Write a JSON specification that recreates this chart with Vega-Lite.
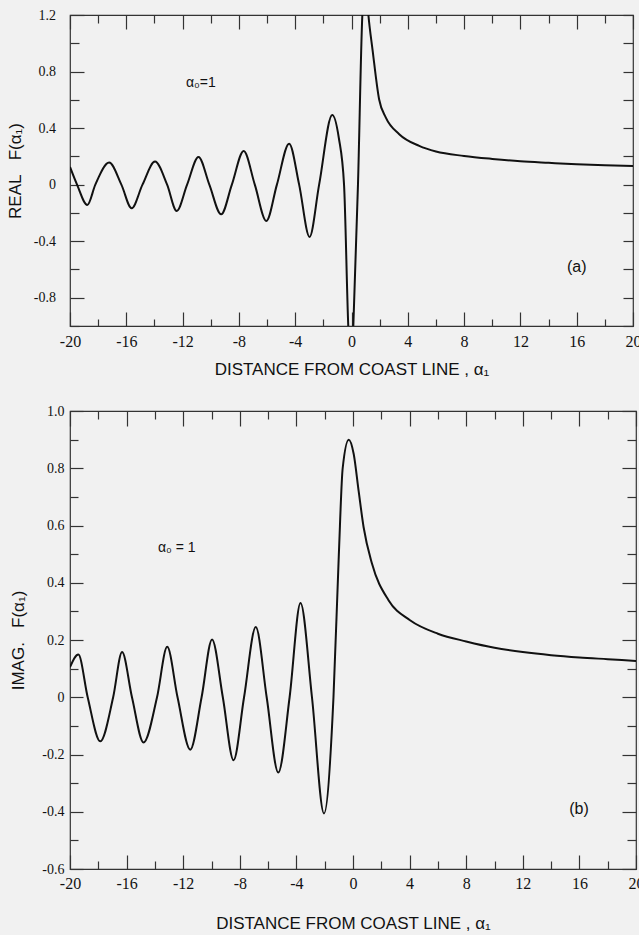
{
  "$schema": "https://vega.github.io/schema/vega-lite/v6.json",
  "background": "#f1f1f1",
  "padding": {"left": 5, "top": 7, "right": 3, "bottom": 3},
  "spacing": 25,
  "datasets": {
    "real": [
      {"x": -20, "y": 0.125}, {"x": -19.5, "y": 0}, {"x": -18.77, "y": -0.144}, {"x": -18.2, "y": 0},
      {"x": -17.22, "y": 0.156}, {"x": -16.35, "y": 0}, {"x": -15.62, "y": -0.167}, {"x": -14.85, "y": 0},
      {"x": -13.96, "y": 0.163}, {"x": -13.1, "y": 0}, {"x": -12.42, "y": -0.186}, {"x": -11.68, "y": 0},
      {"x": -10.87, "y": 0.196}, {"x": -10.1, "y": 0}, {"x": -9.26, "y": -0.21}, {"x": -8.5, "y": 0},
      {"x": -7.66, "y": 0.238}, {"x": -6.87, "y": 0}, {"x": -6.05, "y": -0.257}, {"x": -5.3, "y": 0},
      {"x": -4.43, "y": 0.29}, {"x": -3.72, "y": 0}, {"x": -2.98, "y": -0.37}, {"x": -2.3, "y": 0},
      {"x": -1.37, "y": 0.493}, {"x": -0.9, "y": 0.33}, {"x": -0.53, "y": 0},
      {"x": -0.23, "y": -1.0}, {"x": -0.05, "y": -1.35}, {"x": 0.13, "y": -1.0}, {"x": 0.46, "y": 0},
      {"x": 0.77, "y": 1.2}, {"x": 1.0, "y": 1.45}, {"x": 1.2, "y": 1.2}, {"x": 1.5, "y": 0.95},
      {"x": 1.96, "y": 0.604}, {"x": 2.44, "y": 0.474}, {"x": 3.39, "y": 0.357}, {"x": 4.81, "y": 0.274},
      {"x": 6.0, "y": 0.234}, {"x": 8.0, "y": 0.203}, {"x": 10.0, "y": 0.182}, {"x": 12.0, "y": 0.165},
      {"x": 14.0, "y": 0.154}, {"x": 16.0, "y": 0.144}, {"x": 18.0, "y": 0.137}, {"x": 20.0, "y": 0.132}
    ],
    "imag": [
      {"x": -20, "y": 0.105}, {"x": -19.41, "y": 0.149}, {"x": -18.75, "y": 0}, {"x": -17.86, "y": -0.154},
      {"x": -16.95, "y": 0}, {"x": -16.32, "y": 0.158}, {"x": -15.62, "y": 0}, {"x": -14.8, "y": -0.158},
      {"x": -13.85, "y": 0}, {"x": -13.13, "y": 0.176}, {"x": -12.4, "y": 0}, {"x": -11.5, "y": -0.183},
      {"x": -10.7, "y": 0}, {"x": -9.96, "y": 0.202}, {"x": -9.2, "y": 0}, {"x": -8.44, "y": -0.22},
      {"x": -7.7, "y": 0}, {"x": -6.87, "y": 0.245}, {"x": -6.1, "y": 0}, {"x": -5.28, "y": -0.263},
      {"x": -4.48, "y": 0}, {"x": -3.71, "y": 0.329}, {"x": -2.9, "y": 0}, {"x": -2.05, "y": -0.406},
      {"x": -1.38, "y": 0}, {"x": -1.0, "y": 0.5}, {"x": -0.73, "y": 0.8}, {"x": -0.3, "y": 0.9},
      {"x": 0.05, "y": 0.85}, {"x": 0.4, "y": 0.72}, {"x": 0.75, "y": 0.594}, {"x": 1.34, "y": 0.467},
      {"x": 2.51, "y": 0.339}, {"x": 4.03, "y": 0.269}, {"x": 6.0, "y": 0.222}, {"x": 8.0, "y": 0.195},
      {"x": 10.0, "y": 0.173}, {"x": 12.0, "y": 0.158}, {"x": 14.0, "y": 0.147}, {"x": 16.0, "y": 0.139},
      {"x": 18.0, "y": 0.133}, {"x": 20.0, "y": 0.127}
    ],
    "notesA": [
      {"x": -10.7, "y": 0.72, "label": "α₀=1", "size": "small"},
      {"x": 16.0, "y": -0.585, "label": "(a)", "size": "big"}
    ],
    "notesB": [
      {"x": -12.45, "y": 0.52, "label": "α₀ = 1", "size": "small"},
      {"x": 15.97, "y": -0.39, "label": "(b)", "size": "big"}
    ]
  },
  "config": {
    "view": {"stroke": "#333", "strokeWidth": 1.2},
    "axis": {
      "domain": false, "grid": false, "tickColor": "#333", "tickWidth": 1.2, "labelFlush": false,
      "labelFont": "Liberation Sans Narrow", "labelFontSize": 16, "labelColor": "#111",
      "titleFont": "Liberation Sans", "titleFontSize": 17, "titleFontWeight": "normal", "titleColor": "#111"
    },
    "axisLeft": {"labelFontSize": 14},
    "text": {"font": "Liberation Sans", "color": "#111"}
  },
  "vconcat": [
    {
      "width": 563, "height": 311,
      "layer": [
        {
          "data": {"name": "real"},
          "mark": {"type": "line", "color": "#111", "strokeWidth": 2, "interpolate": "monotone", "clip": true},
          "encoding": {
            "x": {"field": "x", "type": "quantitative",
              "scale": {"domain": [-20, 20], "nice": false, "zero": false},
              "axis": {"orient": "bottom",
                "values": [-20,-18,-16,-14,-12,-10,-8,-6,-4,-2,0,2,4,6,8,10,12,14,16,18,20],
                "labelExpr": "datum.value % 4 === 0 ? '' + datum.value : ''",
                "tickSize": {"condition": {"test": "datum.value % 4 === 0", "value": -14}, "value": -7},
                "labelPadding": 21, "title": "DISTANCE FROM COAST LINE , α₁", "titlePadding": 12}},
            "y": {"field": "y", "type": "quantitative",
              "scale": {"domain": [-1, 1.2], "nice": false, "zero": false},
              "axis": {"orient": "left",
                "values": [-1,-0.8,-0.6,-0.4,-0.2,0,0.2,0.4,0.6,0.8,1,1.2],
                "labelExpr": "round(datum.value*10) % 4 === 0 ? '' + datum.value : ''",
                "tickSize": {"condition": {"test": "round(datum.value*10) % 4 === 0", "value": -14}, "value": -9},
                "labelPadding": 28.5, "title": "REAL\u00a0\u00a0\u00a0F(α₁)", "titlePadding": 9}}
          }
        },
        {
          "mark": {"type": "rule", "color": "#444", "strokeWidth": 1.1},
          "encoding": {
            "x": {"datum": 0, "type": "quantitative",
              "scale": {"domain": [-20, 20], "nice": false, "zero": false},
              "axis": {"orient": "top",
                "values": [-20,-18,-16,-14,-12,-10,-8,-6,-4,-2,0,2,4,6,8,10,12,14,16,18,20],
                "labels": false, "title": null,
                "tickSize": {"condition": {"test": "datum.value % 4 === 0", "value": -14}, "value": -8}}}
          }
        },
        {
          "mark": {"type": "rule", "color": "#444", "strokeWidth": 1.1},
          "encoding": {
            "y": {"datum": 0, "type": "quantitative",
              "scale": {"domain": [-1, 1.2], "nice": false, "zero": false},
              "axis": {"orient": "right",
                "values": [-1,-0.8,-0.6,-0.4,-0.2,0,0.2,0.4,0.6,0.8,1,1.2],
                "labels": false, "title": null, "tickSize": -10}}
          }
        },
        {
          "data": {"name": "notesA"},
          "mark": {"type": "text", "align": "center", "baseline": "middle"},
          "encoding": {
            "x": {"field": "x", "type": "quantitative", "scale": {"domain": [-20, 20], "nice": false, "zero": false}, "axis": null},
            "y": {"field": "y", "type": "quantitative", "scale": {"domain": [-1, 1.2], "nice": false, "zero": false}, "axis": null},
            "text": {"field": "label"},
            "size": {"field": "size", "type": "nominal", "scale": {"domain": ["small", "big"], "range": [14, 16]}, "legend": null}
          }
        }
      ],
      "resolve": {"axis": {"x": "independent", "y": "independent"}}
    },
    {
      "width": 566, "height": 458,
      "layer": [
        {
          "data": {"name": "imag"},
          "mark": {"type": "line", "color": "#111", "strokeWidth": 2, "interpolate": "monotone", "clip": true},
          "encoding": {
            "x": {"field": "x", "type": "quantitative",
              "scale": {"domain": [-20, 20], "nice": false, "zero": false},
              "axis": {"orient": "bottom",
                "values": [-20,-18,-16,-14,-12,-10,-8,-6,-4,-2,0,2,4,6,8,10,12,14,16,18,20],
                "labelExpr": "datum.value % 4 === 0 ? '' + datum.value : ''",
                "tickSize": {"condition": {"test": "datum.value % 4 === 0", "value": -14}, "value": -8},
                "labelPadding": 20, "title": "DISTANCE FROM COAST LINE , α₁", "titlePadding": 24}},
            "y": {"field": "y", "type": "quantitative",
              "scale": {"domain": [-0.6, 1.0], "nice": false, "zero": false},
              "axis": {"orient": "left",
                "values": [-0.6,-0.5,-0.4,-0.3,-0.2,-0.1,0,0.1,0.2,0.3,0.4,0.5,0.6,0.7,0.8,0.9,1.0],
                "labelExpr": "round(datum.value*10) % 2 === 0 ? (datum.value === 0 ? '0' : (datum.value < 0 ? '-' : '') + format(abs(datum.value), '.1f')) : ''",
                "tickSize": {"condition": {"test": "round(datum.value*10) % 2 === 0", "value": -13}, "value": -8},
                "labelPadding": 19, "title": "IMAG.\u00a0\u00a0\u00a0F(α₁)", "titlePadding": 14}}
          }
        },
        {
          "mark": {"type": "rule", "color": "#444", "strokeWidth": 1.1},
          "encoding": {
            "x": {"datum": 0, "type": "quantitative",
              "scale": {"domain": [-20, 20], "nice": false, "zero": false},
              "axis": {"orient": "top",
                "values": [-20,-18,-16,-14,-12,-10,-8,-6,-4,-2,0,2,4,6,8,10,12,14,16,18,20],
                "labels": false, "title": null,
                "tickSize": {"condition": {"test": "datum.value % 4 === 0", "value": -15}, "value": -8}}}
          }
        },
        {
          "mark": {"type": "rule", "color": "#444", "strokeWidth": 1.1},
          "encoding": {
            "y": {"datum": 0, "type": "quantitative",
              "scale": {"domain": [-0.6, 1.0], "nice": false, "zero": false},
              "axis": {"orient": "right",
                "values": [-0.6,-0.5,-0.4,-0.3,-0.2,-0.1,0,0.1,0.2,0.3,0.4,0.5,0.6,0.7,0.8,0.9,1.0],
                "labels": false, "title": null,
                "tickSize": {"condition": {"test": "round(datum.value*10) % 2 === 0", "value": -14}, "value": -9}}}
          }
        },
        {
          "data": {"name": "notesB"},
          "mark": {"type": "text", "align": "center", "baseline": "middle"},
          "encoding": {
            "x": {"field": "x", "type": "quantitative", "scale": {"domain": [-20, 20], "nice": false, "zero": false}, "axis": null},
            "y": {"field": "y", "type": "quantitative", "scale": {"domain": [-0.6, 1.0], "nice": false, "zero": false}, "axis": null},
            "text": {"field": "label"},
            "size": {"field": "size", "type": "nominal", "scale": {"domain": ["small", "big"], "range": [14, 16]}, "legend": null}
          }
        }
      ],
      "resolve": {"axis": {"x": "independent", "y": "independent"}}
    }
  ]
}
